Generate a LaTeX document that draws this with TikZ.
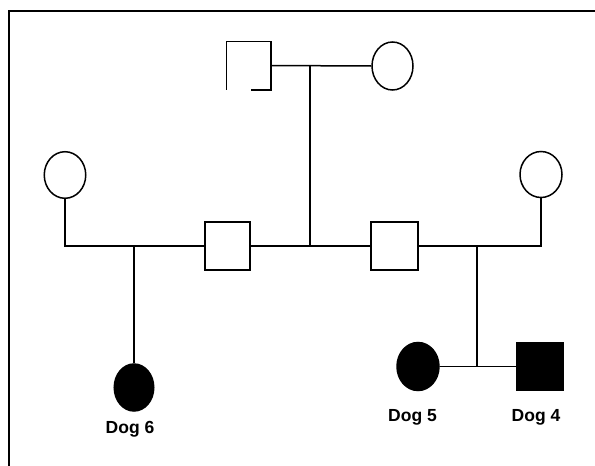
\documentclass[tikz,border=0pt]{standalone}
\usepackage{fontspec}
\setmainfont{Liberation Sans}
\usetikzlibrary{shapes.geometric}
\begin{document}
\begin{tikzpicture}[x=1pt,y=-1pt,
  line width=1.5pt,
  female/.style={ellipse,draw,inner sep=0pt,minimum width=#1},
  male/.style={rectangle,draw,inner sep=0pt},
  filled/.style={fill=black},
  lab/.style={anchor=base,font=\bfseries\fontsize{17.5}{20}\selectfont}]
\useasboundingbox (0,0) rectangle (595,466);
% frame
\draw (9,466) -- (9,11) -- (595,11);
% generation I
\node[male,draw=none,minimum width=43pt,minimum height=47pt] (gf) at (248.5,65.5) {};
\draw (gf.south west) -- (gf.north west) -- (gf.north east) -- (gf.south east) -- ([xshift=-20pt]gf.south east);
\node[female=41pt,minimum height=48pt] (gm) at (392.5,66) {};
\draw (gf.east) -- (gm.west);
\coordinate (top) at (310,66);
\coordinate (mid) at (310,246);
\draw (top) -- (mid);
% generation II
\node[female=41.5pt,minimum height=46.6pt] (lm) at (65,175) {};
\node[male,minimum width=45pt,minimum height=48pt] (ls) at (227.5,246) {};
\node[male,minimum width=47pt,minimum height=48pt] (rs) at (394.5,246) {};
\node[female=42pt,minimum height=46pt] (rm) at (541,174.5) {};
\draw (lm.south) |- (ls.west);
\draw (ls.east) -- (rs.west);
\draw (rs.east) -| (rm.south);
% generation III
\coordinate (c1) at (134,246);
\node[female=39.5pt,minimum height=47pt,filled] (d6) at (134,387.5) {};
\draw (c1) -- (d6.north);
\node[female=42pt,minimum height=48pt,filled] (d5) at (418,366.5) {};
\node[male,minimum width=46pt,minimum height=47pt,filled] (d4) at (540,366.5) {};
\coordinate (c2) at (477,246);
\coordinate (s2) at (477,366.5);
\draw (c2) -- (s2);
\draw (d5.east) -- (d4.west);
% labels
\node[lab] (l6) at (130,433) {Dog 6};
\node[lab] (l5) at (412.5,421) {Dog 5};
\node[lab] (l4) at (536,421) {Dog 4};
\end{tikzpicture}
\end{document}
